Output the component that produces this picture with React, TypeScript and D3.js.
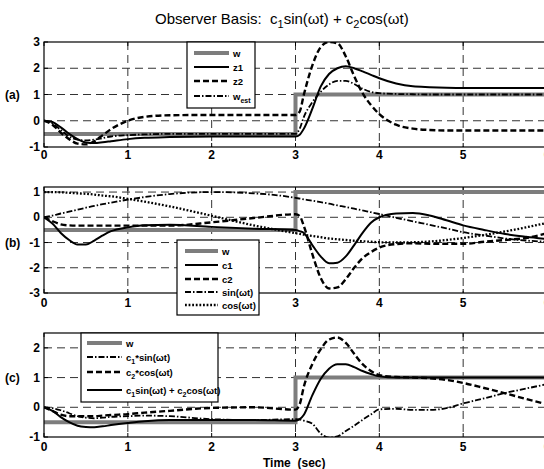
import React from 'react';
import * as d3 from 'd3';

// ---------------- data ----------------
const T = [0, 0.1, 0.2, 0.3, 0.4, 0.5, 0.6, 0.7, 0.8, 1.0, 1.2, 1.5, 2.0, 2.5, 3.0, 3.05, 3.1, 3.2, 3.3, 3.4, 3.5, 3.6, 3.7, 3.8, 3.9, 4.0, 4.2, 4.4, 4.6, 4.8, 5.0, 5.25, 5.5, 5.75, 6.0];

const W_T = [0, 3, 3, 6];
const W_V = [-0.5, -0.5, 1, 1];

// panel (a)
const Z1 = [0, -0.05, -0.25, -0.5, -0.7, -0.83, -0.85, -0.82, -0.78, -0.7, -0.65, -0.62, -0.6, -0.6, -0.6, -0.53, -0.3, 0.45, 1.3, 1.78, 2.0, 2.08, 2.0, 1.88, 1.75, 1.62, 1.42, 1.31, 1.28, 1.26, 1.25, 1.25, 1.25, 1.25, 1.25];
const Z2 = [0, -0.15, -0.45, -0.7, -0.87, -0.9, -0.78, -0.55, -0.32, 0.0, 0.15, 0.21, 0.22, 0.22, 0.22, 0.35, 1.0, 2.1, 2.8, 3.0, 2.95, 2.45, 1.7, 1.05, 0.6, 0.25, -0.15, -0.3, -0.35, -0.37, -0.37, -0.37, -0.37, -0.37, -0.37];
const W_EST = [0, -0.1, -0.35, -0.6, -0.72, -0.75, -0.72, -0.66, -0.6, -0.55, -0.52, -0.5, -0.5, -0.5, -0.5, -0.3, 0.15, 0.7, 1.1, 1.38, 1.52, 1.52, 1.4, 1.22, 1.1, 1.05, 1.02, 1.01, 1.0, 1.0, 1.0, 1.0, 1.0, 1.0, 1.0];

// panel (b)
const C1 = [0, -0.25, -0.62, -0.9, -1.08, -1.08, -0.92, -0.72, -0.55, -0.4, -0.32, -0.3, -0.38, -0.45, -0.5, -0.55, -0.62, -1.1, -1.55, -1.82, -1.8, -1.55, -1.1, -0.62, -0.22, 0.0, 0.15, 0.17, 0.07, -0.12, -0.32, -0.5, -0.66, -0.77, -0.86];
const C2 = [0, -0.15, -0.28, -0.32, -0.33, -0.33, -0.33, -0.33, -0.33, -0.33, -0.33, -0.33, -0.2, -0.03, 0.12, 0.05, -0.35, -1.45, -2.4, -2.82, -2.78, -2.45, -2.0, -1.62, -1.38, -1.2, -1.06, -1.03, -1.05, -1.05, -1.05, -0.97, -0.9, -0.82, -0.63];
const SIN_WT = [0, 0.07, 0.15, 0.22, 0.3, 0.38, 0.45, 0.52, 0.58, 0.7, 0.8, 0.92, 1.0, 0.95, 0.77, 0.74, 0.71, 0.66, 0.6, 0.54, 0.47, 0.41, 0.34, 0.27, 0.2, 0.13, -0.02, -0.16, -0.3, -0.44, -0.59, -0.72, -0.84, -0.92, -0.97];
const COS_WT = [1.0, 1.0, 0.99, 0.97, 0.95, 0.93, 0.9, 0.86, 0.83, 0.73, 0.62, 0.43, 0.06, -0.32, -0.63, -0.66, -0.69, -0.74, -0.79, -0.84, -0.87, -0.9, -0.93, -0.95, -0.97, -0.99, -1.0, -0.99, -0.96, -0.9, -0.82, -0.7, -0.56, -0.4, -0.22];

// panel (c)
const C1_SIN = [0, -0.03, -0.1, -0.2, -0.3, -0.35, -0.37, -0.35, -0.32, -0.3, -0.28, -0.3, -0.4, -0.43, -0.4, -0.41, -0.45, -0.55, -0.88, -1.02, -0.98, -0.8, -0.62, -0.42, -0.24, -0.07, -0.05, -0.09, -0.09, -0.03, 0.13, 0.3, 0.48, 0.63, 0.78];
const C2_COS = [0, -0.12, -0.25, -0.3, -0.3, -0.3, -0.3, -0.28, -0.26, -0.23, -0.18, -0.12, -0.02, 0.0, -0.08, 0.1, 0.7, 1.45, 1.95, 2.28, 2.35, 2.17, 1.8, 1.45, 1.22, 1.08, 1.02, 1.0, 0.98, 0.92, 0.82, 0.65, 0.47, 0.28, 0.1];
const SUM = [0, -0.12, -0.33, -0.5, -0.62, -0.66, -0.67, -0.64, -0.6, -0.53, -0.47, -0.43, -0.43, -0.43, -0.45, -0.4, -0.25, 0.4, 0.95, 1.3, 1.45, 1.45, 1.35, 1.22, 1.12, 1.04, 1.0, 1.0, 1.0, 1.0, 1.0, 1.0, 1.0, 1.0, 1.0];

const X_TICKS = [0, 1, 2, 3, 4, 5, 6];
const Y_TICKS_A = [-1, 0, 1, 2, 3];
const Y_TICKS_B = [-3, -2, -1, 0, 1];
const Y_TICKS_C = [-1, 0, 1, 2];

// ---------------- styles ----------------
const FONT = "'Liberation Sans', Arial, Helvetica, sans-serif";
type Style = { stroke: string; width: number; dash?: string };
const ST: Record<string, Style> = {
  w: { stroke: '#7d7d7d', width: 4 },
  solid: { stroke: '#000', width: 2 },
  dashed: { stroke: '#000', width: 2.4, dash: '6,3' },
  dashdot: { stroke: '#000', width: 1.8, dash: '6,2,1.5,2' },
  dotted: { stroke: '#000', width: 2.3, dash: '1.8,1.8' },
};

const X0 = 44, X1 = 547;
const x = d3.scaleLinear().domain([0, 6]).range([X0, X1]);

type Series = { t: number[]; v: number[]; style: Style; step?: boolean };
type LegendItem = { label: React.ReactNode; style: Style };

const panels = [
  {
    id: 'a', top: 42, bot: 147, dom: [-1, 3], ticks: Y_TICKS_A, tag: '(a)', tagAt: 1,
    series: [
      { t: W_T, v: W_V, style: ST.w, step: true },
      { t: T, v: W_EST, style: ST.dashdot },
      { t: T, v: Z2, style: ST.dashed },
      { t: T, v: Z1, style: ST.solid },
    ] as Series[],
    legend: { x: 187, y: 42, w: 68, h: 66, lx0: 194, lx1: 229, tx: 233, rows: [53, 67, 81, 96] },
    items: [
      { label: 'w', style: ST.w },
      { label: 'z1', style: ST.solid },
      { label: 'z2', style: ST.dashed },
      { label: <>w<tspan dy={3} fontSize={7}>est</tspan></>, style: ST.dashdot },
    ] as LegendItem[],
  },
  {
    id: 'b', top: 187, bot: 293, dom: [-3, 1.2], ticks: Y_TICKS_B, tag: '(b)', tagAt: -1,
    series: [
      { t: W_T, v: W_V, style: ST.w, step: true },
      { t: T, v: COS_WT, style: ST.dotted },
      { t: T, v: SIN_WT, style: ST.dashdot },
      { t: T, v: C2, style: ST.dashed },
      { t: T, v: C1, style: ST.solid },
    ] as Series[],
    legend: { x: 177, y: 240, w: 82, h: 75, lx0: 185, lx1: 218, tx: 222, rows: [251, 265, 279, 292, 305] },
    items: [
      { label: 'w', style: ST.w },
      { label: 'c1', style: ST.solid },
      { label: 'c2', style: ST.dashed },
      { label: 'sin(ωt)', style: ST.dashdot },
      { label: 'cos(ωt)', style: ST.dotted },
    ] as LegendItem[],
  },
  {
    id: 'c', top: 333, bot: 437, dom: [-1, 2.5], ticks: Y_TICKS_C, tag: '(c)', tagAt: 1,
    series: [
      { t: W_T, v: W_V, style: ST.w, step: true },
      { t: T, v: C1_SIN, style: ST.dashdot },
      { t: T, v: C2_COS, style: ST.dashed },
      { t: T, v: SUM, style: ST.solid },
    ] as Series[],
    legend: { x: 81, y: 333, w: 137, h: 69, lx0: 87, lx1: 122, tx: 126, rows: [343, 357, 372, 390] },
    items: [
      { label: 'w', style: ST.w },
      { label: <>c<tspan dy={3} fontSize={7}>1</tspan><tspan dy={-3}>*sin(ωt)</tspan></>, style: ST.dashdot },
      { label: <>c<tspan dy={3} fontSize={7}>2</tspan><tspan dy={-3}>*cos(ωt)</tspan></>, style: ST.dashed },
      { label: <>c<tspan dy={3} fontSize={7}>1</tspan><tspan dy={-3}>sin(ωt) + c</tspan><tspan dy={3} fontSize={7}>2</tspan><tspan dy={-3}>cos(ωt)</tspan></>, style: ST.solid },
    ] as LegendItem[],
  },
];

function Panel({ p }: { p: typeof panels[number] }) {
  const y = d3.scaleLinear().domain(p.dom).range([p.bot, p.top]);
  const smooth = d3.line<[number, number]>().x(d => x(d[0])).y(d => y(d[1])).curve(d3.curveMonotoneX);
  const straight = d3.line<[number, number]>().x(d => x(d[0])).y(d => y(d[1]));
  const clipId = `clip-${p.id}`;
  const grid = '#333';
  return (
    <g>
      <defs>
        <clipPath id={clipId}>
          <rect x={X0} y={p.top} width={X1 - X0} height={p.bot - p.top} />
        </clipPath>
      </defs>
      {X_TICKS.filter(t => t > 0 && t < 6).map(t => (
        <line key={'vx' + t} x1={x(t)} x2={x(t)} y1={p.top} y2={p.bot} stroke={grid} strokeWidth={1} strokeDasharray="8,5" />
      ))}
      {p.ticks.filter(v => v > p.dom[0] && v < p.dom[1]).map(v => (
        <line key={'hy' + v} x1={X0} x2={X1} y1={y(v)} y2={y(v)} stroke={grid} strokeWidth={1} strokeDasharray="8,5" />
      ))}
      {X_TICKS.map(t => (
        <g key={'tx' + t}>
          <line x1={x(t)} x2={x(t)} y1={p.bot} y2={p.bot - 4} stroke="#000" />
          <line x1={x(t)} x2={x(t)} y1={p.top} y2={p.top + 4} stroke="#000" />
          <text x={x(t)} y={p.bot + (p.id === 'a' ? 12 : 14)} textAnchor="middle" fontSize={12} fontWeight="bold" fontFamily={FONT}>{t}</text>
        </g>
      ))}
      {p.ticks.map(v => (
        <g key={'ty' + v}>
          <line x1={X0} x2={X0 + 4} y1={y(v)} y2={y(v)} stroke="#000" />
          <text x={40} y={y(v) + 4} textAnchor="end" fontSize={12} fontWeight="bold" fontFamily={FONT}>{v}</text>
        </g>
      ))}
      <text x={5} y={y(p.tagAt) + 4} fontSize={12} fontWeight="bold" fontFamily={FONT}>{p.tag}</text>
      <g clipPath={`url(#${clipId})`}>
        {p.series.map((s, i) => {
          const pts = s.t.map((t, k) => [t, s.v[k]] as [number, number]);
          return (
            <path key={i} d={(s.step ? straight : smooth)(pts) || ''} fill="none" stroke={s.style.stroke}
              strokeWidth={s.style.width} strokeDasharray={s.style.dash} />
          );
        })}
      </g>
      <rect x={X0} y={p.top} width={X1 - X0} height={p.bot - p.top} fill="none" stroke="#000" strokeWidth={1.2} />
      <g>
        <rect x={p.legend.x} y={p.legend.y} width={p.legend.w} height={p.legend.h} fill="#fff" stroke="#000" strokeWidth={1.2} />
        {p.items.map((it, i) => {
          const ry = p.legend.rows[i];
          return (
            <g key={i}>
              <line x1={p.legend.lx0} x2={p.legend.lx1} y1={ry} y2={ry} stroke={it.style.stroke}
                strokeWidth={it.style.width} strokeDasharray={it.style.dash} />
              <text x={p.legend.tx} y={ry + 3.5} fontSize={9.5} fontWeight="bold" fontFamily={FONT}>{it.label}</text>
            </g>
          );
        })}
      </g>
    </g>
  );
}

export default function App() {
  return (
    <svg width={544} height={469} viewBox="0 0 544 469"
      style={{ position: 'absolute', left: 0, top: 0, background: '#fff', display: 'block' }}>
      <rect x={0} y={0} width={544} height={469} fill="#fff" />
      <text x={155} y={24} fontSize={15} fontFamily={FONT} xmlSpace="preserve">
        Observer Basis:  c<tspan dy={4} fontSize={11}>1</tspan><tspan dy={-4}>sin(ωt) + c</tspan><tspan dy={4} fontSize={11}>2</tspan><tspan dy={-4}>cos(ωt)</tspan>
      </text>
      {panels.map(p => <Panel key={p.id} p={p} />)}
      <text x={263} y={467} fontSize={12} fontWeight="bold" fontFamily={FONT} xmlSpace="preserve">Time  (sec)</text>
    </svg>
  );
}
